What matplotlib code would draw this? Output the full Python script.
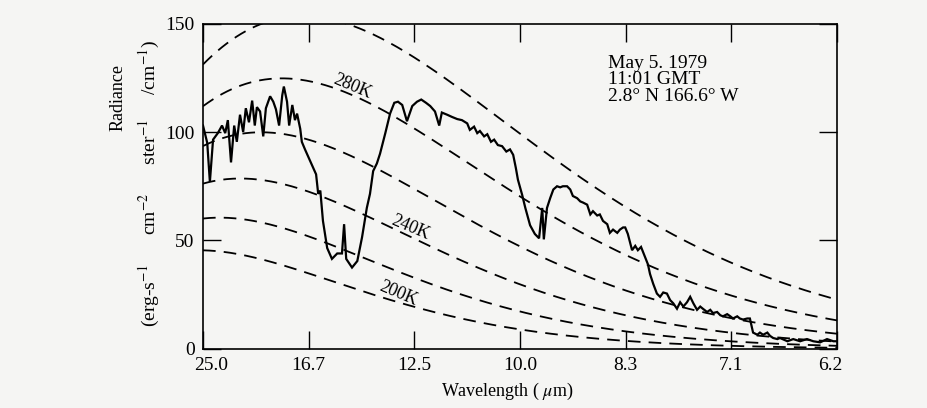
import numpy as np
import matplotlib
matplotlib.use("Agg")
import matplotlib.pyplot as plt
import matplotlib.transforms as mtransforms

plt.rcParams['font.family'] = ['Liberation Serif', 'DejaVu Serif']
plt.rcParams['mathtext.fontset'] = 'stix'

# measured spectrum: wavenumber (cm^-1) and radiance
wavenumber = [
    400, 408, 413, 419, 428, 436, 442, 447, 453, 459, 464, 470, 476, 481,
    487, 493, 498, 502, 508, 514, 519, 527, 533, 538, 544, 550, 553, 559,
    563, 569, 574, 578, 584, 587, 593, 603, 614, 618, 622, 627, 635, 644,
    654, 663, 667, 671, 682, 692, 701, 710, 716, 722, 729, 735, 745, 754,
    762, 769, 777, 786, 796, 805, 813, 822, 830, 839, 847, 852, 862, 871,
    881, 890, 900, 905, 913, 919, 924, 932, 938, 945, 951, 958, 966, 974,
    981, 987, 992, 996, 1004, 1010, 1019, 1028, 1036, 1042, 1045, 1051,
    1057, 1063, 1070, 1076, 1081, 1089, 1095, 1100, 1108, 1114, 1119, 1127,
    1133, 1138, 1146, 1151, 1157, 1165, 1170, 1176, 1184, 1189, 1195, 1199,
    1204, 1212, 1218, 1223, 1229, 1237, 1242, 1246, 1252, 1259, 1265, 1271,
    1278, 1284, 1290, 1297, 1303, 1309, 1316, 1322, 1328, 1335, 1341, 1346,
    1354, 1360, 1365, 1373, 1379, 1384, 1392, 1398, 1403, 1411, 1416, 1422,
    1430, 1435, 1441, 1449, 1454, 1460, 1468, 1473, 1479, 1487, 1492, 1506,
    1517, 1530, 1543, 1555, 1568, 1581, 1593, 1600]
radiance = [
    103, 95, 77, 96.5, 99.5, 103, 99.5, 105.5, 86, 103, 95.5, 108, 100, 111,
    104.5, 114.5, 103, 111.5, 109.5, 98, 111, 116.5, 114, 110.5, 103, 117,
    121, 114, 103, 112.5, 105.5, 108.5, 101.5, 95.5, 92, 86.5, 80.5, 71.5,
    73, 59, 46.5, 41.5, 44, 44, 57.5, 41.5, 37.5, 40.5, 51.5, 65, 71.5, 82,
    85.5, 90, 99.5, 108.5, 113.5, 114, 112.5, 105, 112, 114, 115, 113.5,
    112, 109.5, 103, 109, 108, 107, 106, 105.5, 104, 101, 102.5, 99.5, 100.5,
    98, 99, 95.5, 96.5, 94, 93.5, 91, 92, 89.5, 83.5, 78, 71, 65, 57, 53, 51,
    65, 50.5, 65, 69.5, 73.5, 75, 74.5, 75, 75, 73.5, 70.5, 69.5, 68, 67.5,
    66.5, 62, 63.5, 61.5, 62, 59, 57.5, 53.5, 55, 53.5, 55, 56, 56, 53, 45.5,
    47.5, 45.5, 47, 42, 39, 34.5, 30, 25.5, 24, 26, 25.5, 22.5, 21, 18.5,
    21.5, 19.5, 21.5, 24, 21, 18, 19.5, 18.5, 17, 18, 16.5, 17, 15.5, 15, 16,
    15, 14, 15, 14, 13.5, 14, 14, 7.5, 6.5, 7.5, 6.5, 7.5, 6, 5, 4.5, 5, 3.5,
    4.5, 3.5, 4.5, 3.5, 3, 4.5, 3.5, 3.5]

# blackbody reference temperatures (K)
temps = [200, 220, 240, 260, 280, 300]
labelled_temps = [280, 240, 200]

tick_wn = [400, 600, 800, 1000, 1200, 1400, 1600]
tick_lbl = ['25.0', '16.7', '12.5', '10.0', '8.3', '7.1', '6.2']
ytick_vals = [0, 50, 100, 150]


def planck(nu, T):
    """Blackbody radiance in erg s^-1 cm^-2 sr^-1 (cm^-1)^-1."""
    c1 = 1.191e-5
    c2 = 1.4388
    return c1 * nu**3 / (np.exp(c2 * nu / T) - 1.0)


bg = '#f5f5f3'
fig = plt.figure(figsize=(9.27, 4.08), dpi=100, facecolor=bg)
ax = fig.add_axes([0.219, 0.145, 0.684, 0.797])
ax.set_facecolor(bg)

nu = np.linspace(400, 1600, 400)
for T in temps:
    ax.plot(nu, planck(nu, T), color='black', lw=1.3,
            dashes=(7, 4.5), zorder=2)

ax.plot(wavenumber, radiance, color='black', lw=1.6,
        solid_joinstyle='miter', zorder=3)

# temperature labels sitting just above their curves
label_at = {280: 682, 240: 792, 200: 769}
for T in labelled_temps:
    x = label_at[T]
    ax.text(x, planck(x, T) + 4, '%dK' % T, rotation=-23,
            ha='center', va='center', fontsize=13)

ax.set_xlim(400, 1600)
ax.set_ylim(0, 150)
ax.set_xticks(tick_wn)
ax.set_xticklabels(tick_lbl)
ax.set_yticks(ytick_vals)
ax.tick_params(direction='in', length=13, width=1, top=True, right=True,
               labelsize=14, pad=6)
for s in ax.spines.values():
    s.set_linewidth(1.2)

# nudge the end labels inward so they clear the corners
xlabels = ax.get_xticklabels()
xlabels[0].set_transform(xlabels[0].get_transform() +
                         mtransforms.ScaledTranslation(8 / 100, 0, fig.dpi_scale_trans))
xlabels[-1].set_transform(xlabels[-1].get_transform() +
                          mtransforms.ScaledTranslation(-7 / 100, 0, fig.dpi_scale_trans))

ax.set_xlabel(r'Wavelength ( $\mu$m)', fontsize=13)
ax.xaxis.set_label_coords(0.48, -0.10)

fig.text(0.127, 0.76, 'Radiance', rotation=90, ha='center', va='center',
         fontsize=13)
fig.text(0.161, 0.55,
         r'(erg-s$^{-1}$      cm$^{-2}$      ster$^{-1}$     /cm$^{-1}$)',
         rotation=90, ha='center', va='center', fontsize=14)

fig.text(0.656, 0.865, 'May 5. 1979\n11:01 GMT\n2.8\u00b0 N 166.6\u00b0 W',
         ha='left', va='top', fontsize=14, linespacing=0.95)

fig.savefig('out.png', dpi=100, facecolor=bg)
